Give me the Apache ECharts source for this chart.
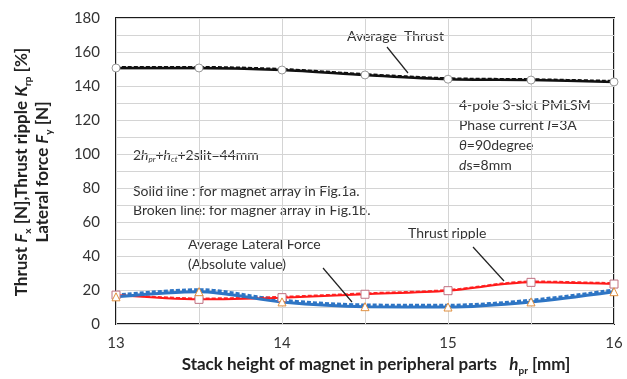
<!DOCTYPE html>
<html>
<head>
<meta charset="utf-8">
<script src="https://cdn.jsdelivr.net/npm/echarts@6/dist/echarts.min.js"></script>
<style>
  html, body { margin: 0; padding: 0; background: #fff; }
  #chart { width: 627px; height: 379px; }
</style>
</head>
<body>
<div id="chart"></div>
<script>
// stack height h_pr [mm]
const heights = [13, 13.5, 14, 14.5, 15, 15.5, 16];

// solid lines: magnet array in Fig.1a
const thrustA = [150.6, 150.6, 149.4, 146.5, 144, 143.5, 142.4];
const rippleA = [17, 14.5, 15.5, 17.5, 19.6, 24.5, 23.5];
const lateralA = [16, 19, 13, 10.2, 10, 13, 19];

// broken lines: magnet array in Fig.1b
const thrustB = [151.2, 151.2, 150, 147, 144.6, 144, 143];
const rippleB = [17.4, 15, 16, 18, 20, 25, 24];
const lateralB = [17, 20.2, 14, 11.2, 11, 14, 20];

const yTicks = [0, 20, 40, 60, 80, 100, 120, 140, 160, 180];

const FONT = 'Lato, "Liberation Sans", sans-serif';

function pairs(ys) {
  return heights.map((x, i) => [x, ys[i]]);
}

function solid(name, ys, color, symbol, symColor, width) {
  return {
    name: name,
    type: 'line',
    data: pairs(ys),
    smooth: 0.3,
    symbol: symbol,
    symbolSize: 8,
    lineStyle: { color: color, width: width },
    itemStyle: { color: '#fff', borderColor: symColor, borderWidth: 1 },
    z: 3
  };
}

function broken(name, ys, color, width) {
  return {
    name: name,
    type: 'line',
    data: pairs(ys),
    smooth: 0.3,
    symbol: 'none',
    lineStyle: { color: color, width: width, type: [4, 2] },
    z: 2
  };
}

const chart = echarts.init(document.getElementById('chart'));

const txt = (x, y, text) => ({
  type: 'text',
  left: x, top: y,
  style: { text: text, font: '14px ' + FONT, fill: '#333' }
});

const arrow = (x1, y1, x2, y2) => ({
  type: 'line',
  shape: { x1: x1, y1: y1, x2: x2, y2: y2 },
  style: { stroke: '#222', lineWidth: 1.2 },
  z: 10
});

const richTitle = {
  i: { font: 'italic bold 17px ' + FONT, fill: '#222' },
  s: { font: 'bold 10px ' + FONT, fill: '#222', padding: [11, 0, 0, 0] }
};

chart.setOption({
  animation: false,
  grid: {
    left: 116, right: 13, top: 18, bottom: 55,
    show: true, borderColor: '#1a1a1a', borderWidth: 2
  },
  xAxis: {
    type: 'value',
    min: 13, max: 16, interval: 0.5,
    axisLine: { show: false },
    axisTick: { show: false },
    splitLine: { show: true, lineStyle: { color: '#d4d4d4', width: 1 } },
    axisLabel: {
      margin: 12,
      fontFamily: FONT, fontSize: 15, color: '#333',
      formatter: v => {
        if (v % 1 !== 0) return '';
        return (v === 14 || v === 15) ? '{up|' + v + '}' : String(v);
      },
      rich: { up: { fontFamily: FONT, fontSize: 15, color: '#333', padding: [0, 0, 10, 0] } }
    }
  },
  yAxis: {
    type: 'value',
    min: 0, max: 180, interval: 10,
    axisLine: { show: false },
    axisTick: { show: false },
    splitLine: { show: true, lineStyle: { color: '#d4d4d4', width: 1 } },
    axisLabel: {
      margin: 16,
      fontFamily: FONT, fontSize: 15, color: '#333',
      formatter: v => yTicks.indexOf(v) >= 0 ? String(v) : ''
    }
  },
  series: [
    broken('Average Thrust (Fig.1b)', thrustB, '#111', 2),
    broken('Thrust ripple (Fig.1b)', rippleB, '#ff3030', 2),
    broken('Average Lateral Force (Fig.1b)', lateralB, '#2e75c4', 3),
    solid('Average Thrust', thrustA, '#111', 'circle', '#999', 2.5),
    solid('Thrust ripple', rippleA, '#ff1a1a', 'rect', '#c07080', 2),
    solid('Average Lateral Force', lateralA, '#2e75c4', 'triangle', '#e09040', 3)
  ],
  graphic: [
    {
      type: 'text',
      x: 22, y: 172, rotation: Math.PI / 2,
      style: {
        text: 'Thrust {i|F}{s|x} [N],Thrust ripple {i|K}{s|rp} [%]',
        font: 'bold 17px ' + FONT, fill: '#222',
        align: 'center', verticalAlign: 'middle',
        rich: richTitle
      }
    },
    {
      type: 'text',
      x: 43, y: 172, rotation: Math.PI / 2,
      style: {
        text: 'Lateral force {i|F}{s|y} [N]',
        font: 'bold 17px ' + FONT, fill: '#222',
        align: 'center', verticalAlign: 'middle',
        rich: richTitle
      }
    },
    {
      type: 'text',
      x: 376, y: 365,
      style: {
        text: 'Stack height of magnet in peripheral parts   {i|h}{s|pr} [mm]',
        font: 'bold 17px ' + FONT, fill: '#222',
        align: 'center', verticalAlign: 'middle',
        rich: richTitle
      }
    },
    txt(347, 29, 'Average  Thrust'),
    arrow(387, 47, 408, 73),
    txt(408, 226, 'Thrust ripple'),
    arrow(473, 247, 504, 281),
    txt(188, 237, 'Average Lateral Force'),
    txt(188, 257, '(Absolute value)'),
    arrow(323, 268, 352, 302),
    txt(459, 98, '4-pole 3-slot PMLSM'),
    {
      type: 'text', left: 459, top: 118,
      style: { text: 'Phase current {i|I}=3A', font: '14px ' + FONT, fill: '#333',
        rich: { i: { font: 'italic 14px ' + FONT, fill: '#333' } } }
    },
    {
      type: 'text', left: 459, top: 138,
      style: { text: '{i|θ}=90degree', font: '14px ' + FONT, fill: '#333',
        rich: { i: { font: 'italic 14px ' + FONT, fill: '#333' } } }
    },
    {
      type: 'text', left: 459, top: 158,
      style: { text: '{i|d}s=8mm', font: '14px ' + FONT, fill: '#333',
        rich: { i: { font: 'italic 14px ' + FONT, fill: '#333' } } }
    },
    {
      type: 'text', left: 133, top: 148,
      style: {
        text: '2{i|h}{s|pr}+{i|h}{s|ct}+2slit=44mm', font: '14px ' + FONT, fill: '#333',
        rich: {
          i: { font: 'italic 14px ' + FONT, fill: '#333' },
          s: { font: 'italic 8px ' + FONT, fill: '#333', padding: [9, 0, 0, 0] }
        }
      }
    },
    txt(133, 184, 'Solid line : for magnet array in Fig.1a.'),
    txt(133, 203, 'Broken line: for magner array in Fig.1b.')
  ]
});
</script>
</body>
</html>
